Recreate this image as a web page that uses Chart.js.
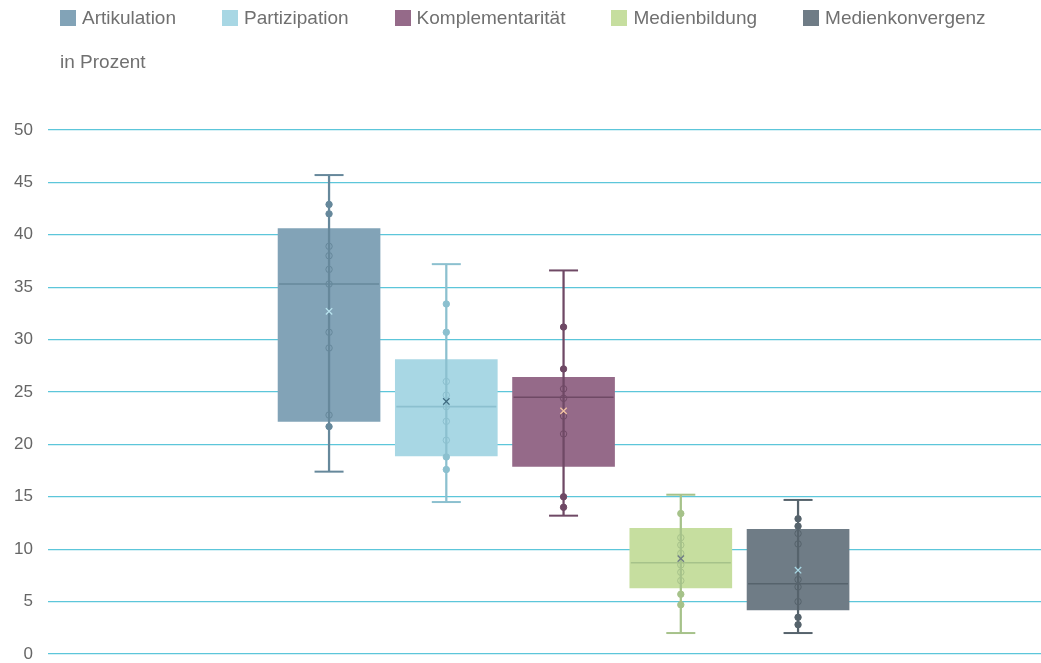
<!DOCTYPE html>
<html lang="de">
<head>
<meta charset="utf-8">
<script src="https://cdn.jsdelivr.net/npm/chart.js@4/dist/chart.umd.min.js"></script>
<style>
  html, body { margin: 0; padding: 0; background: #fff; }
  #wrap { position: relative; width: 1041px; height: 663px; }
  #graph { position: absolute; left: 0; top: 0; }
  #legend {
    position: absolute; left: 60px; top: 10px; display: flex; gap: 46px;
    font: 19px "Liberation Sans", Arial, sans-serif; color: #707070;
  }
  #legend .item { display: flex; align-items: center; height: 16px; }
  #legend .box { width: 16px; height: 16px; margin-right: 6px; }
  #unit {
    position: absolute; left: 60px; top: 51px;
    font: 19px "Liberation Sans", Arial, sans-serif; color: #707070;
  }
</style>
</head>
<body>
<div id="wrap">
  <canvas id="graph" width="1041" height="663"></canvas>
  <div id="legend"></div>
  <div id="unit">in Prozent</div>
</div>
<script>
const series = ['Artikulation', 'Partizipation', 'Komplementarität', 'Medienbildung', 'Medienkonvergenz'];
const boxColors = ['#82a3b7', '#a8d7e4', '#956a89', '#c6de9f', '#6f7c86'];
const lineColors = ['#66889b', '#8cc0cf', '#6f4965', '#a6c28a', '#56636c'];
const meanColors = ['#b9e4ef', '#3f6a80', '#f2c2a2', '#6f7c86', '#a8d8e5'];

const whiskerMin = [17.4, 14.5, 13.2, 2.0, 2.0];
const q1 = [22.2, 18.9, 17.9, 6.3, 4.2];
const median = [35.3, 23.6, 24.5, 8.7, 6.7];
const q3 = [40.6, 28.1, 26.4, 12.0, 11.9];
const whiskerMax = [45.7, 37.2, 36.6, 15.2, 14.7];
const mean = [32.7, 24.1, 23.2, 9.1, 8.0];

const pointsArtikulation = [42.9, 42.0, 38.9, 38.0, 36.7, 35.3, 30.7, 29.2, 22.8, 21.7];
const pointsPartizipation = [33.4, 30.7, 26.0, 24.7, 23.6, 22.2, 20.4, 18.8, 17.6];
const pointsKomplementaritaet = [31.2, 27.2, 25.3, 24.4, 22.7, 21.0, 15.0, 14.0];
const pointsMedienbildung = [13.4, 11.1, 10.4, 9.6, 8.5, 7.8, 7.0, 5.7, 4.7];
const pointsMedienkonvergenz = [12.9, 12.2, 11.5, 10.5, 7.1, 6.4, 5.0, 3.5, 2.8];
const allPoints = [pointsArtikulation, pointsPartizipation, pointsKomplementaritaet, pointsMedienbildung, pointsMedienkonvergenz];

const yTicks = [0, 5, 10, 15, 20, 25, 30, 35, 40, 45, 50];

// legend
const legendEl = document.getElementById('legend');
series.forEach((name, i) => {
    const item = document.createElement('div');
    item.className = 'item';
    item.innerHTML = `<span class="box" style="background:${boxColors[i]}"></span><span>${name}</span>`;
    legendEl.appendChild(item);
});

const pos = series.map((s, i) => i + 1);
const pointData = [];
const pointOwner = [];
allPoints.forEach((arr, i) => arr.forEach(v => { pointData.push({ x: pos[i], y: v }); pointOwner.push(i); }));

function inBox(ctx) {
    const i = pointOwner[ctx.dataIndex];
    const v = pointData[ctx.dataIndex].y;
    return v >= q1[i] && v <= q3[i];
}

const ctx = document.getElementById('graph');

const chart = new Chart(ctx, {
    type: 'bar',
    data: {
        datasets: [
            {
                label: 'box',
                data: pos.map((x, i) => ({ x: x, y: [q1[i], q3[i]] })),
                backgroundColor: boxColors,
                borderWidth: 0,
                barThickness: 102,
                grouped: false,
                order: 5
            },
            {
                type: 'scatter',
                label: 'points',
                data: pointData,
                pointRadius: 3.2,
                borderWidth: 1,
                pointBackgroundColor: c => inBox(c) ? 'rgba(0,0,0,0)' : lineColors[pointOwner[c.dataIndex]],
                pointBorderColor: c => lineColors[pointOwner[c.dataIndex]],
                order: 4
            },
            {
                label: 'whisker',
                data: pos.map((x, i) => ({ x: x, y: [whiskerMin[i], whiskerMax[i]] })),
                backgroundColor: lineColors,
                borderWidth: 0,
                barThickness: 1.6,
                grouped: false,
                order: 3
            },
            {
                type: 'scatter',
                label: 'median',
                data: pos.map((x, i) => ({ x: x, y: median[i] })),
                pointStyle: 'line',
                pointRadius: 50,
                borderWidth: 1.6,
                pointBorderColor: lineColors,
                order: 2
            },
            {
                type: 'scatter',
                label: 'caps',
                data: pos.map((x, i) => ({ x: x, y: whiskerMin[i] }))
                    .concat(pos.map((x, i) => ({ x: x, y: whiskerMax[i] }))),
                pointStyle: 'line',
                pointRadius: 14.5,
                borderWidth: 2,
                pointBorderColor: lineColors.concat(lineColors),
                order: 2
            },
            {
                type: 'scatter',
                label: 'mean',
                data: pos.map((x, i) => ({ x: x, y: mean[i] })),
                pointStyle: 'crossRot',
                pointRadius: 4.5,
                borderWidth: 1.3,
                pointBorderColor: meanColors,
                order: 1
            }
        ]
    },
    options: {
        responsive: false,
        animation: false,
        layout: { autoPadding: false, padding: { top: 130, bottom: 9, left: 0, right: 0 } },
        plugins: {
            legend: { display: false },
            tooltip: { enabled: false }
        },
        scales: {
            x: {
                type: 'linear',
                display: false,
                offset: false,
                min: -1.397,
                max: 7.072
            },
            y: {
                min: 0,
                max: 50,
                afterFit: axis => {
                    axis.width = 48;
                    axis.paddingTop = 0;
                    axis.paddingBottom = 0;
                },
                afterBuildTicks: axis => { axis.ticks = yTicks.map(v => ({ value: v })); },
                border: { display: false },
                grid: { color: '#5cc6da', lineWidth: 1.2, drawTicks: false },
                ticks: {
                    padding: 15,
                    color: '#666666',
                    font: { family: '"Liberation Sans", Arial, sans-serif', size: 17, lineHeight: 1 }
                }
            }
        }
    }
});
</script>
</body>
</html>
